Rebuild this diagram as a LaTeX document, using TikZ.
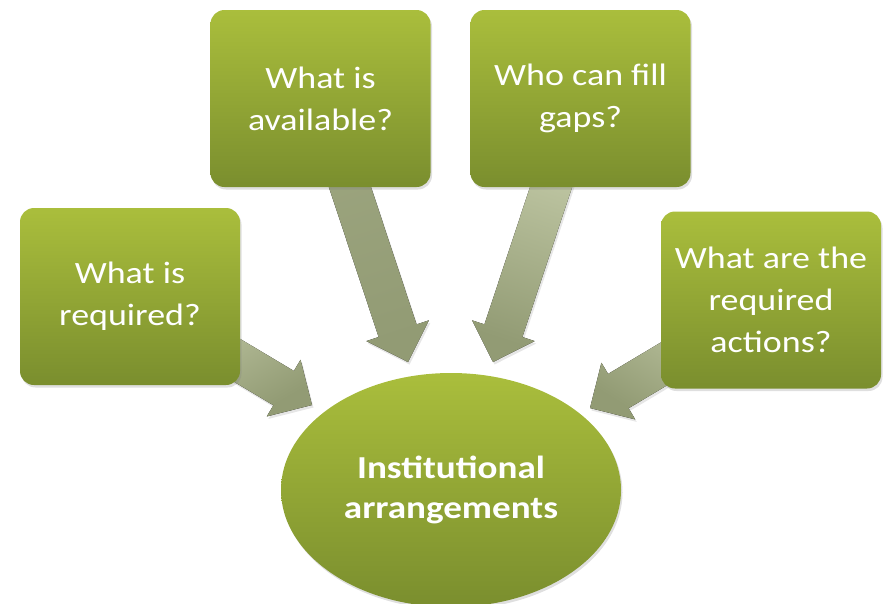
\documentclass[tikz,border=0pt]{standalone}
\usepackage{fontspec}
\setmainfont[FakeStretch=1.16]{Carlito}
\usepackage{tikz}
\usetikzlibrary{calc,positioning,shapes.geometric,shadows,backgrounds}

\definecolor{boxtop}{RGB}{170,190,60}
\definecolor{boxbot}{RGB}{122,142,46}
\definecolor{arrlight}{RGB}{205,212,178}
\definecolor{arrdark}{RGB}{146,155,116}

% block arrow: [options]{from}{tip}
\newcommand{\blockarrow}[3][]{%
  \coordinate (hb) at ($(#3)!33pt!(#2)$);
  \fill[#1] ($(#2)!20pt!90:(#3)$) -- ($(hb)!20pt!90:(#3)$) -- ($(hb)!33pt!90:(#3)$) -- (#3)
    -- ($(hb)!33pt!-90:(#3)$) -- ($(hb)!20pt!-90:(#3)$) -- ($(#2)!20pt!-90:(#3)$) -- cycle;
}

\begin{document}
\begin{tikzpicture}[x=1pt,y=-1pt,
    question/.style={
        rectangle,
        rounded corners=14pt,
        minimum width=220pt,
        minimum height=177pt,
        top color=boxtop,
        bottom color=boxbot,
        text=white,
        align=center,
        font=\fontsize{31}{42}\selectfont,
        drop shadow={opacity=0.25,shadow xshift=1.5pt,shadow yshift=-2.5pt}
    },
    hub/.style={
        ellipse,
        minimum width=340pt,
        minimum height=234pt,
        inner sep=0pt,
        top color=boxtop,
        bottom color=boxbot,
        text=white,
        align=center,
        font=\bfseries\fontsize{32}{40}\selectfont,
        drop shadow={opacity=0.25,shadow xshift=1.5pt,shadow yshift=-2.5pt}
    },
    flow/.style={
        top color=arrlight,
        bottom color=arrdark,
        drop shadow={opacity=0.2,shadow xshift=1.5pt,shadow yshift=-2.5pt}
    }]
    \useasboundingbox (0,0) rectangle (884,603);

    % questions
    \node[question] (req) at (130,296.5) {What is\\required?};
    \node[question] (avail) at (320.5,98.5) {What is\\available?};
    \node[question] (gaps) at (580.5,98.5) {Who can fill\\gaps?};
    \node[question] (acts) at (771,300) {What are the\\required\\actions?};

    % centre
    \node[hub] (inst) at (451,490) {Institutional\\arrangements};

    % arrow tips
    \coordinate (t1) at (312,405);
    \coordinate (t2) at (408,362);
    \coordinate (t3) at (493,362);
    \coordinate (t4) at (590,408);

    \begin{pgfonlayer}{background}
        \blockarrow[flow,shading angle=30]{req}{t1}
        \blockarrow[flow,top color=arrdark!80!arrlight,shading angle=18]{avail}{t2}
        \blockarrow[flow,shading angle=-18]{gaps}{t3}
        \blockarrow[flow,shading angle=-32]{acts}{t4}
    \end{pgfonlayer}
\end{tikzpicture}
\end{document}
